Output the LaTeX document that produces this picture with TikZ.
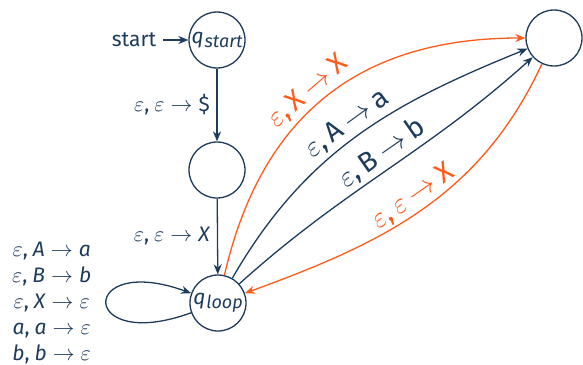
\documentclass[tikz,border=0pt]{standalone}
\usepackage{fontspec}
\setmainfont{Fira Sans}
\usetikzlibrary{arrows.meta}
\definecolor{navy}{HTML}{1D3B5C}
\definecolor{flame}{HTML}{FF5A1A}

\newcommand{\myeps}{$\varepsilon$}
% one transition label: read, pop -> push
\newcommand{\tr}[3]{#1,\kern2.5pt#2\kern3pt$\rightarrow$\kern3pt#3}
\newcommand{\qs}[1]{\textit{q\kern0.05em\raisebox{-0.4ex}{\small #1}}}

\begin{document}
\begin{tikzpicture}[
    x=0.5pt, y=-0.5pt,
    every node/.style={font=\fontsize{10.5}{13}\selectfont, text=navy},
    pdastate/.style={circle, draw=navy, line width=0.65pt, minimum size=28pt, inner sep=0pt},
    trans/.style={draw=navy, line width=0.65pt, -{Stealth[length=5pt,width=4pt]}},
    hot/.style={trans, draw=flame},
    hotlabel/.style={text=flame},
    bigl/.style={font=\fontsize{14}{16}\selectfont, above, sloped, inner sep=1.5pt}
  ]
  \useasboundingbox (0,0) rectangle (583,364);

  % states
  \node[pdastate] (qstart) at (217,40) {\qs{start}};
  \node[pdastate] (qmid) at (217,170) {};
  \node[pdastate] (qloop) at (218,303) {\qs{loop}};
  \node[pdastate] (qacc) at (554,38) {};
  \node (startlbl) at (134,40) {start};

  % straight part
  \draw[trans] (startlbl) -- (qstart);
  \draw[trans] (qstart) -- node[left] (lblpush) {\tr{\myeps}{\myeps}{\$}} (qmid);
  \draw[trans] (qmid) -- node[left] (lblmark) {\tr{\myeps}{\myeps}{\textit{X}}} (qloop);

  % loop on q_loop
  \draw[trans] (qloop) to[out=200, in=160, looseness=1, min distance=60pt]
    node[left=4pt, align=center] (lblloop) {%
      \tr{\myeps}{\textit{A}}{\textit{a}}\\
      \tr{\myeps}{\textit{B}}{\textit{b}}\\
      \tr{\myeps}{\textit{X}}{\myeps}\\
      \tr{\textit{a}}{\textit{a}}{\myeps}\\
      \tr{\textit{b}}{\textit{b}}{\myeps}} (qloop);

  % to the right state and back
  \draw[hot] (qloop) to[out=77, in=180, looseness=1.1]
    node[pos=0.47, bigl, hotlabel] (lblkeep) {\tr{\myeps}{X}{X}} (qacc);
  \draw[trans] (qloop) to[out=60, in=202]
    node[pos=0.5, bigl] (lbla) {\tr{\myeps}{A}{a}} (qacc);
  \draw[trans] (qloop) to[out=42, in=222]
    node[pos=0.52, bigl] (lblb) {\tr{\myeps}{B}{b}} (qacc);
  \draw[hot] (qacc) to[out=245, in=20]
    node[pos=0.5, bigl, hotlabel] (lblback) {\tr{\myeps}{\myeps}{X}} (qloop);
\end{tikzpicture}
\end{document}
